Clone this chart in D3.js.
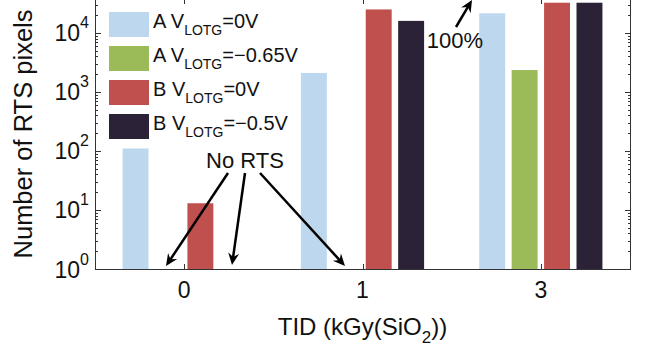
<!DOCTYPE html>
<html><head><meta charset="utf-8">
<script src="https://cdn.jsdelivr.net/npm/d3@7"></script>
<style>
body{margin:0;background:#fff}
svg{display:block}
text{font-family:"Liberation Sans",Arial,Helvetica,sans-serif;fill:#111}
</style>
</head><body>
<svg id="chart" width="647" height="351"></svg>
<script>
// TID groups (kGy(SiO2)) and RTS pixel counts per pixel variant
const categories = ["0", "1", "3"];
const seriesKeys = ["A0", "A065", "B0", "B05"];
const valuesA0   = [110, 2100, 21500];
const valuesA065 = [null, null, 2350];
const valuesB0   = [13, 25000, 32500];
const valuesB05  = [null, 16000, 32500];
const legendPrefix = ["A V", "A V", "B V", "B V"];
const legendSuffix = ["=0V", "=\u22120.65V", "=0V", "=\u22120.5V"];
const seriesColors = ["#bdd7ee", "#9bbb59", "#c0504d", "#2b2237"];
const yTickValues = [1, 10, 100, 1000, 10000];
const yTickExponents = ["0", "1", "2", "3", "4"];

const seriesValues = [valuesA0, valuesA065, valuesB0, valuesB05];

const svg = d3.select("#chart");
const plotLeft = 95, plotRight = 630, plotBottom = 269, plotTop = -1;
const yMax = Math.pow(10, 4.575);

const x0 = d3.scaleBand().domain(categories).range([plotLeft, plotRight]).padding(0);
const groupWidth = x0.step() * seriesKeys.length / (seriesKeys.length + 1.5);
const x1 = d3.scaleBand().domain(seriesKeys)
  .range([-groupWidth / 2, groupWidth / 2])
  .paddingInner(0.2).paddingOuter(0.1);
const y = d3.scaleLog().domain([1, yMax]).range([plotBottom, plotTop]);

// bars
const barData = [];
categories.forEach((c, i) => {
  seriesKeys.forEach((k, j) => {
    const v = seriesValues[j][i];
    if (v != null) barData.push({c, k, v, color: seriesColors[j]});
  });
});
svg.append("g").selectAll("rect").data(barData).join("rect")
  .attr("x", d => x0(d.c) + x0.bandwidth() / 2 + x1(d.k))
  .attr("width", x1.bandwidth())
  .attr("y", d => y(d.v))
  .attr("height", d => y(1) - y(d.v))
  .attr("fill", d => d.color);

// axes frame
const axisColor = "#333";
svg.append("path")
  .attr("d", `M${plotLeft + 0.5},${plotTop}V${plotBottom + 0.5}H${plotRight + 0.5}V${plotTop}`)
  .attr("stroke", axisColor).attr("stroke-width", 1).attr("fill", "none");

// y ticks (major + minor), mirrored on the right
const minorTicks = [];
for (let e = 0; e < 5; e++) {
  for (let m = 2; m <= 9; m++) {
    const v = m * Math.pow(10, e);
    if (v <= yMax) minorTicks.push(v);
  }
}
const tg = svg.append("g").attr("stroke", axisColor).attr("stroke-width", 1);
yTickValues.forEach(v => {
  const yy = Math.round(y(v)) + 0.5;
  tg.append("line").attr("x1", plotLeft).attr("x2", plotLeft + 6).attr("y1", yy).attr("y2", yy);
  tg.append("line").attr("x1", plotRight - 5).attr("x2", plotRight + 1).attr("y1", yy).attr("y2", yy);
});
minorTicks.forEach(v => {
  const yy = Math.round(y(v)) + 0.5;
  tg.append("line").attr("x1", plotLeft).attr("x2", plotLeft + 3).attr("y1", yy).attr("y2", yy);
  tg.append("line").attr("x1", plotRight - 2).attr("x2", plotRight + 1).attr("y1", yy).attr("y2", yy);
});
// x ticks at group centres, bottom and top
categories.forEach(c => {
  const xx = Math.round(x0(c) + x0.bandwidth() / 2) + 0.5;
  tg.append("line").attr("x1", xx).attr("x2", xx).attr("y1", plotBottom).attr("y2", plotBottom - 5);
  tg.append("line").attr("x1", xx).attr("x2", xx).attr("y1", 0).attr("y2", 4);
});

// y tick labels 10^n
yTickValues.forEach((v, i) => {
  const t = svg.append("text").attr("x", 89).attr("y", y(v) + 8.5)
    .attr("text-anchor", "end").style("font-size", "23px");
  t.append("tspan").text("10");
  t.append("tspan").attr("dy", -13).style("font-size", "16px").text(yTickExponents[i]);
});

// x tick labels
categories.forEach(c => {
  svg.append("text").attr("x", x0(c) + x0.bandwidth() / 2).attr("y", 298)
    .attr("text-anchor", "middle").style("font-size", "23px").text(c);
});

// axis titles
const xt = svg.append("text").attr("x", (plotLeft + plotRight) / 2).attr("y", 335)
  .attr("text-anchor", "middle").style("font-size", "24px");
xt.append("tspan").text("TID (kGy(SiO");
xt.append("tspan").attr("dy", 8).style("font-size", "17px").text("2");
xt.append("tspan").attr("dy", -8).text("))");

svg.append("text").attr("transform", "translate(32,134) rotate(-90)")
  .attr("text-anchor", "middle").style("font-size", "25.5px").text("Number of RTS pixels");

// legend
const legendY = [12, 46, 80, 114];
seriesKeys.forEach((k, i) => {
  svg.append("rect").attr("x", 109).attr("y", legendY[i]).attr("width", 40).attr("height", 25)
    .attr("fill", seriesColors[i]);
  const t = svg.append("text").attr("x", 153).attr("y", legendY[i] + 16).style("font-size", "20px");
  t.append("tspan").text(legendPrefix[i]);
  t.append("tspan").attr("dy", 7).style("font-size", "14px").text("LOTG");
  t.append("tspan").attr("dy", -7).text(legendSuffix[i]);
});

// annotations with filled arrowheads
function arrow(xa, ya, xb, yb) {
  const ang = Math.atan2(yb - ya, xb - xa);
  const len = 12, half = 5.5, back = 8;
  const bx = xb - back * Math.cos(ang), by = yb - back * Math.sin(ang);
  svg.append("line").attr("x1", xa).attr("y1", ya).attr("x2", bx).attr("y2", by)
    .attr("stroke", "#000").attr("stroke-width", 2.5);
  const px = xb - len * Math.cos(ang), py = yb - len * Math.sin(ang);
  const nx = -Math.sin(ang), ny = Math.cos(ang);
  svg.append("path")
    .attr("d", `M${xb},${yb}L${px + nx * half},${py + ny * half}L${bx},${by}L${px - nx * half},${py - ny * half}Z`)
    .attr("fill", "#000");
}
svg.append("text").attr("x", 245).attr("y", 168).attr("text-anchor", "middle")
  .style("font-size", "22px").text("No RTS");
arrow(228, 173, 166, 266);
arrow(245, 173, 232, 265);
arrow(260, 173, 345, 266);

svg.append("text").attr("x", 455).attr("y", 48).attr("text-anchor", "middle")
  .style("font-size", "22px").text("100%");
arrow(456, 27, 472, 0);
</script>
</body></html>
